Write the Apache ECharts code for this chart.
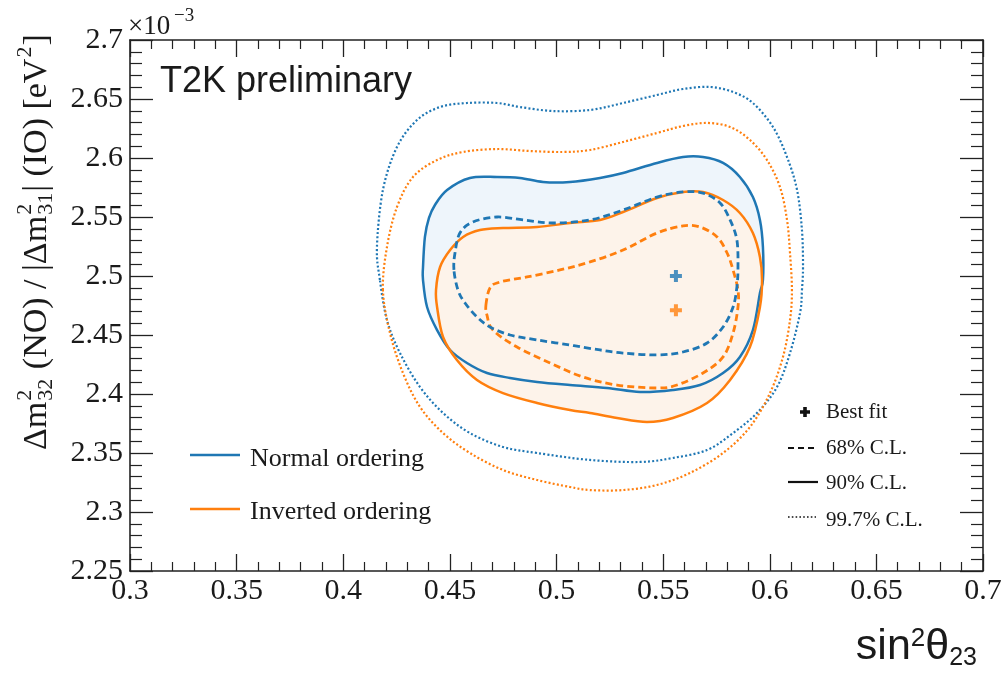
<!DOCTYPE html>
<html><head><meta charset="utf-8">
<script src="https://cdn.jsdelivr.net/npm/echarts@6/dist/echarts.min.js"></script>
<style>html,body{margin:0;padding:0;background:#fff}#c{width:1002px;height:673px}</style>
</head><body><div id="c"></div>
<script>
// ---- data (x = sin^2 theta23, y = Delta m^2 in 1e-3 eV^2) ----
const xTickLabels = ['0.3','0.35','0.4','0.45','0.5','0.55','0.6','0.65','0.7'];
const yTickLabels = ['2.25','2.3','2.35','2.4','2.45','2.5','2.55','2.6','2.65','2.7'];

const bestFitNO = [[0.556, 2.500]];
const bestFitIO = [[0.556, 2.471]];

const NO_90 = [[0.4374,2.4966],[0.4374,2.5076],[0.4383,2.5331],[0.4402,2.5492],[0.4430,2.5602],[0.4487,2.5729],[0.4594,2.5831],[0.4721,2.5839],[0.4829,2.5831],[0.4937,2.5797],[0.5063,2.5797],[0.5204,2.5831],[0.5312,2.5873],[0.5471,2.5958],[0.5593,2.6008],[0.5687,2.6008],[0.5781,2.5958],[0.5860,2.5839],[0.5921,2.5669],[0.5954,2.5475],[0.5968,2.5246],[0.5968,2.4966],[0.5954,2.4856],[0.5921,2.4542],[0.5860,2.4314],[0.5781,2.4178],[0.5673,2.4076],[0.5546,2.4034],[0.5392,2.4017],[0.5237,2.4051],[0.5063,2.4076],[0.4909,2.4102],[0.4782,2.4136],[0.4674,2.4178],[0.4580,2.4263],[0.4501,2.4373],[0.4440,2.4542],[0.4393,2.4737]];

const IO_90 = [[0.4435,2.4881],[0.4454,2.5076],[0.4501,2.5220],[0.4562,2.5331],[0.4641,2.5390],[0.4749,2.5407],[0.4909,2.5415],[0.5063,2.5449],[0.5204,2.5475],[0.5312,2.5542],[0.5471,2.5661],[0.5593,2.5712],[0.5687,2.5712],[0.5781,2.5644],[0.5860,2.5534],[0.5921,2.5364],[0.5954,2.5161],[0.5964,2.4966],[0.5954,2.4737],[0.5907,2.4398],[0.5814,2.4119],[0.5706,2.3924],[0.5546,2.3797],[0.5424,2.3763],[0.5284,2.3797],[0.5157,2.3839],[0.5063,2.3864],[0.4909,2.3924],[0.4749,2.4008],[0.4627,2.4119],[0.4533,2.4288],[0.4468,2.4483],[0.4440,2.4737]];

const NO_68 = [[0.4519,2.5051],[0.4524,2.5195],[0.4547,2.5364],[0.4608,2.5458],[0.4721,2.5500],[0.4843,2.5475],[0.4984,2.5449],[0.5157,2.5475],[0.5312,2.5559],[0.5471,2.5669],[0.5593,2.5712],[0.5687,2.5703],[0.5767,2.5619],[0.5814,2.5475],[0.5846,2.5305],[0.5851,2.5076],[0.5846,2.4907],[0.5828,2.4737],[0.5781,2.4568],[0.5706,2.4432],[0.5593,2.4356],[0.5471,2.4331],[0.5312,2.4347],[0.5204,2.4373],[0.5063,2.4415],[0.4909,2.4458],[0.4782,2.4500],[0.4688,2.4568],[0.4627,2.4653],[0.4571,2.4771],[0.4538,2.4881]];

const IO_68 = [[0.4669,2.4754],[0.4688,2.4898],[0.4735,2.4949],[0.4862,2.4992],[0.5016,2.5051],[0.5157,2.5119],[0.5312,2.5220],[0.5471,2.5364],[0.5593,2.5424],[0.5673,2.5415],[0.5753,2.5331],[0.5800,2.5195],[0.5828,2.5051],[0.5851,2.4881],[0.5851,2.4737],[0.5828,2.4517],[0.5781,2.4314],[0.5687,2.4178],[0.5565,2.4076],[0.5471,2.4051],[0.5284,2.4076],[0.5124,2.4144],[0.4970,2.4263],[0.4815,2.4398],[0.4702,2.4542],[0.4674,2.4669]];

const NO_997 = [[0.4172,2.4966],[0.4158,2.5246],[0.4186,2.5729],[0.4252,2.6093],[0.4346,2.6322],[0.4454,2.6432],[0.4580,2.6466],[0.4721,2.6466],[0.4829,2.6432],[0.4984,2.6398],[0.5157,2.6407],[0.5312,2.6466],[0.5471,2.6534],[0.5593,2.6585],[0.5720,2.6602],[0.5828,2.6559],[0.5921,2.6466],[0.6015,2.6263],[0.6081,2.6008],[0.6128,2.5729],[0.6151,2.5390],[0.6156,2.5076],[0.6151,2.4881],[0.6142,2.4686],[0.6095,2.4347],[0.6034,2.4059],[0.5940,2.3839],[0.5828,2.3669],[0.5706,2.3525],[0.5546,2.3458],[0.5392,2.3424],[0.5157,2.3441],[0.4909,2.3500],[0.4749,2.3551],[0.4594,2.3669],[0.4468,2.3839],[0.4360,2.4059],[0.4266,2.4347],[0.4205,2.4627]];

const IO_997 = [[0.4186,2.4881],[0.4205,2.5246],[0.4252,2.5585],[0.4327,2.5839],[0.4440,2.5983],[0.4562,2.6051],[0.4721,2.6076],[0.4876,2.6059],[0.5030,2.6051],[0.5157,2.6068],[0.5312,2.6136],[0.5471,2.6212],[0.5593,2.6271],[0.5706,2.6297],[0.5814,2.6263],[0.5907,2.6153],[0.5987,2.5983],[0.6048,2.5754],[0.6081,2.5475],[0.6095,2.5195],[0.6104,2.4881],[0.6095,2.4627],[0.6062,2.4314],[0.6001,2.4008],[0.5907,2.3720],[0.5781,2.3500],[0.5626,2.3331],[0.5471,2.3229],[0.5312,2.3186],[0.5157,2.3186],[0.5063,2.3212],[0.4909,2.3271],[0.4749,2.3356],[0.4594,2.3500],[0.4468,2.3669],[0.4360,2.3890],[0.4280,2.4178],[0.4219,2.4517]];

// ---- styling ----
const BLUE = '#1f77b4', ORANGE = '#ff7f0e', INK = '#1a1a1a';
const F_SERIF = '"Liberation Serif", "Times New Roman", serif';
const F_SANS = '"Liberation Sans", Arial, sans-serif';

// closed smooth curve through the projected points (Catmull-Rom -> cubic Bezier)
function closedCurve(pts) {
  const n = pts.length;
  let d = 'M' + pts[0][0].toFixed(2) + ',' + pts[0][1].toFixed(2);
  for (let i = 0; i < n; i++) {
    const p0 = pts[(i - 1 + n) % n], p1 = pts[i], p2 = pts[(i + 1) % n], p3 = pts[(i + 2) % n];
    const c1x = p1[0] + (p2[0] - p0[0]) / 6, c1y = p1[1] + (p2[1] - p0[1]) / 6;
    const c2x = p2[0] - (p3[0] - p1[0]) / 6, c2y = p2[1] - (p3[1] - p1[1]) / 6;
    d += 'C' + c1x.toFixed(2) + ',' + c1y.toFixed(2) + ' ' + c2x.toFixed(2) + ',' + c2y.toFixed(2) + ' ' + p2[0].toFixed(2) + ',' + p2[1].toFixed(2);
  }
  return d + 'Z';
}
function contourSeries(name, data, style) {
  return {
    type: 'custom', name: name, data: data, silent: true, animation: false,
    renderItem: function (params, api) {
      if (params.dataIndex !== 0) return null;
      const pts = data.map(function (p) { return api.coord(p); });
      return { type: 'path', shape: { pathData: closedCurve(pts) }, style: style };
    }
  };
}
const plusPath = 'path://M-1,-3L1,-3L1,-1L3,-1L3,1L1,1L1,3L-1,3L-1,1L-3,1L-3,-1L-1,-1Z';

function axisCommon(pos, showLabel, tickLen, minorLen) {
  return {
    type: 'value', position: pos,
    axisLine: { show: true, onZero: false, lineStyle: { color: '#222', width: 1.6 } },
    axisTick: { show: true, inside: true, length: tickLen, lineStyle: { color: '#222', width: 1.3 } },
    minorTick: { show: true, splitNumber: 5, length: minorLen, lineStyle: { color: '#222', width: 1.2 } },
    splitLine: { show: false },
    axisLabel: { show: showLabel, fontFamily: F_SERIF, fontSize: 30, color: INK, margin: 5,
                 showMinLabel: true, showMaxLabel: true }
  };
}
const xb = axisCommon('bottom', true, 17, 9);
xb.axisLabel.formatter = function (v) { return xTickLabels[Math.round((v - 0.3) / 0.05)]; };
const xt = axisCommon('top', false, 17, 9);
const yl = axisCommon('left', true, 23, 12);
yl.axisLabel.margin = 7;
yl.axisLabel.formatter = function (v) { return yTickLabels[Math.round((v - 2.25) / 0.05)]; };
const yr = axisCommon('right', false, 23, 12);
[xb, xt].forEach(function (a) { a.min = 0.3; a.max = 0.7; a.interval = 0.05; });
[yl, yr].forEach(function (a) { a.min = 2.25; a.max = 2.7; a.interval = 0.05; });

// ---- text helpers ----
const mctx = document.createElement('canvas').getContext('2d');
function tw(t, px, fam) { mctx.font = px + 'px ' + (fam || F_SERIF); return mctx.measureText(t).width; }
function txt(t, x, y, px, fam, align) {
  return { type: 'text', x: x, y: y, silent: true,
           style: { text: t, font: px + 'px ' + (fam || F_SERIF), fill: INK, verticalAlign: 'middle', align: align || 'left' } };
}
function yTitle() {
  const MAIN = 34, SM = 22, SUP = -12, SUB = 9;
  const parts = [['Δm'], ['2', '32'], [' (NO) / |Δm'], ['2', '31'], ['| (IO) [eV'], ['2', null], [']']];
  let x = 0; const ch = [];
  parts.forEach(function (p) {
    if (p.length === 1) { ch.push(txt(p[0], x, 0, MAIN)); x += tw(p[0], MAIN); }
    else {
      let w = 0;
      if (p[0]) { ch.push(txt(p[0], x + 1, SUP, SM)); w = Math.max(w, tw(p[0], SM)); }
      if (p[1]) { ch.push(txt(p[1], x + 1, SUB, SM)); w = Math.max(w, tw(p[1], SM)); }
      x += w + 2;
    }
  });
  return { type: 'group', x: 37, y: 450, rotation: Math.PI / 2, children: ch };
}
function xTitle() {
  // sin^2 theta_23, right edge at 977
  const parts = [['sin', 43, 647], ['2', 26, 639], ['θ', 43, 647], ['23', 25, 658]];
  let total = 0;
  parts.forEach(function (p) { total += tw(p[0], p[1], F_SANS); });
  let x = 977 - total; const ch = [];
  parts.forEach(function (p) { ch.push(txt(p[0], x, p[2], p[1], F_SANS)); x += tw(p[0], p[1], F_SANS); });
  return { type: 'group', children: ch };
}

const graphics = [
  txt('T2K preliminary', 160, 82, 36, F_SANS),
  txt('×10', 128, 27, 27),
  txt('−3', 174, 16, 19),
  yTitle(),
  xTitle(),
  // left legend
  { type: 'line', silent: true, shape: { x1: 190, y1: 455, x2: 240, y2: 455 }, style: { stroke: BLUE, lineWidth: 2.5 } },
  txt('Normal ordering', 250, 459, 26),
  { type: 'line', silent: true, shape: { x1: 190, y1: 509, x2: 240, y2: 509 }, style: { stroke: ORANGE, lineWidth: 2.5 } },
  txt('Inverted ordering', 250, 512, 26),
  // right legend
  { type: 'polygon', silent: true, shape: { points: [[803.2,407],[806.8,407],[806.8,410.2],[810,410.2],[810,413.8],[806.8,413.8],[806.8,417],[803.2,417],[803.2,413.8],[800,413.8],[800,410.2],[803.2,410.2]] }, style: { fill: '#111' } },
  txt('Best fit', 826, 412, 21),
  { type: 'line', silent: true, shape: { x1: 788, y1: 448, x2: 816, y2: 448 }, style: { stroke: '#111', lineWidth: 2, lineDash: [6, 4] } },
  txt('68% C.L.', 826, 448, 21),
  { type: 'line', silent: true, shape: { x1: 788, y1: 482, x2: 818, y2: 482 }, style: { stroke: '#111', lineWidth: 2.2 } },
  txt('90% C.L.', 826, 483, 21),
  { type: 'line', silent: true, shape: { x1: 788, y1: 517, x2: 816, y2: 517 }, style: { stroke: '#111', lineWidth: 1.6, lineDash: [1.6, 2.2] } },
  txt('99.7% C.L.', 826, 520, 21)
];

const chart = echarts.init(document.getElementById('c'), null, { renderer: 'canvas' });
chart.setOption({
  animation: false,
  backgroundColor: '#fff',
  grid: { left: 130, right: 19, top: 40, bottom: 102, containLabel: false, outerBoundsMode: 'none' },
  xAxis: [xb, xt],
  yAxis: [yl, yr],
  series: [
    contourSeries('NO 90 fill', NO_90, { fill: '#eef5fb', stroke: null }),
    contourSeries('IO 90 fill', IO_90, { fill: '#fdf3ea', stroke: null }),
    contourSeries('NO 99.7', NO_997, { fill: null, stroke: BLUE, lineWidth: 2.2, lineDash: [2, 2.2] }),
    contourSeries('IO 99.7', IO_997, { fill: null, stroke: ORANGE, lineWidth: 2.2, lineDash: [2, 2.2] }),
    contourSeries('NO 90', NO_90, { fill: null, stroke: BLUE, lineWidth: 2.5 }),
    contourSeries('IO 90', IO_90, { fill: null, stroke: ORANGE, lineWidth: 2.5 }),
    contourSeries('IO 68', IO_68, { fill: null, stroke: ORANGE, lineWidth: 2.8, lineDash: [7, 4] }),
    contourSeries('NO 68', NO_68, { fill: null, stroke: BLUE, lineWidth: 2.8, lineDash: [7, 4] }),
    { type: 'scatter', name: 'Best fit NO', data: bestFitNO, symbol: plusPath, symbolSize: 12, itemStyle: { color: BLUE }, silent: true },
    { type: 'scatter', name: 'Best fit IO', data: bestFitIO, symbol: plusPath, symbolSize: 12, itemStyle: { color: ORANGE }, silent: true }
  ],
  graphic: graphics
});
</script>
</body></html>
